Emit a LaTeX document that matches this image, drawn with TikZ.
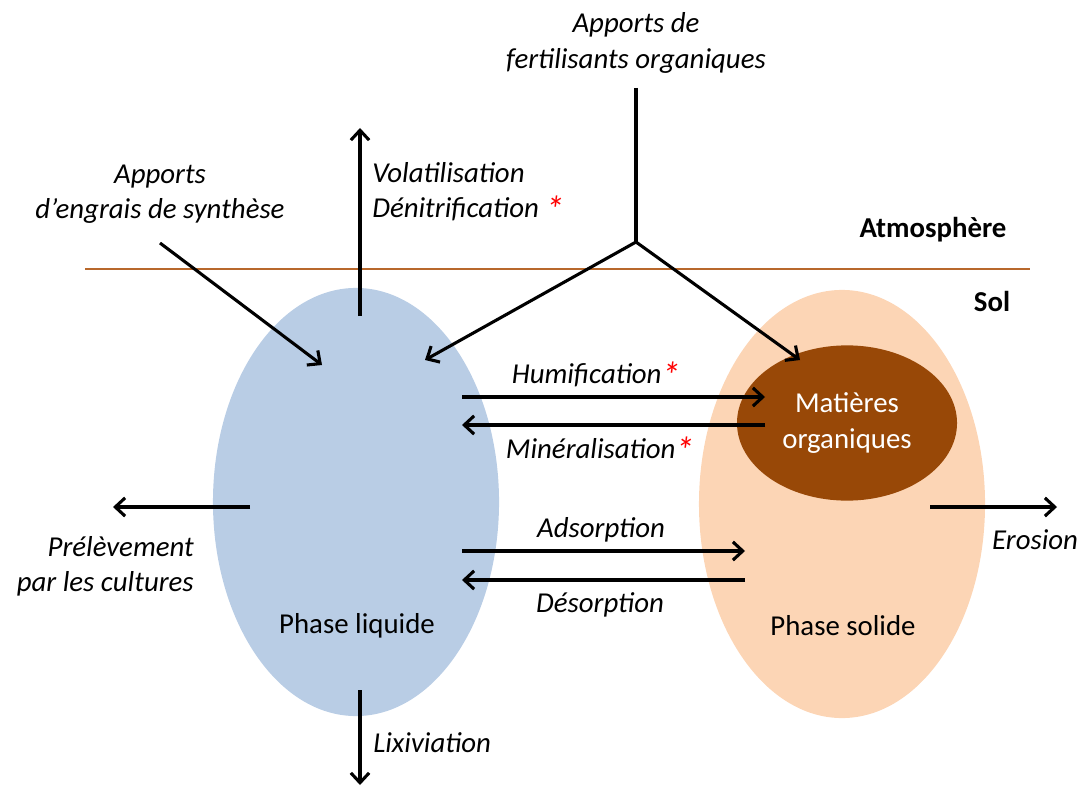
\documentclass[tikz,border=0pt]{standalone}
\usepackage{fontspec}
\setmainfont{Carlito}
\usetikzlibrary{arrows.meta,shapes.geometric}

\definecolor{liquidblue}{RGB}{185,205,229}
\definecolor{solidorange}{RGB}{252,213,181}
\definecolor{mobrown}{RGB}{152,72,7}
\definecolor{solline}{RGB}{184,104,44}

\newcommand{\etoile}{{\color{red}\smash{\raisebox{-0.35ex}{\scalebox{1.3}{*}}}}}

\begin{document}
\begin{tikzpicture}[x=0.025cm, y=-0.025cm,
    flux/.style={line width=2.2pt, -{Straight Barb[length=7pt,width=13pt]}},
    lbl/.style={font=\fontsize{20.5}{25}\selectfont\itshape, inner sep=0pt},
    phase/.style={ellipse, inner sep=0pt, minimum width=7.15cm, minimum height=10.7cm}]
    \useasboundingbox (0,0) rectangle (1083,787);

    \draw[solline, line width=1.2pt] (85,269) -- (1030,269);
    \node[font=\fontsize{20.5}{25}\selectfont\bfseries] (atmo) at (933,230) {Atmosph\`ere};
    \node[font=\fontsize{20.5}{25}\selectfont\bfseries] (sol) at (992,301) {Sol};

    \node[phase, fill=liquidblue] (liquide) at (356,502) {};
    \node[phase, fill=solidorange] (solide) at (842,504) {};
    \node[ellipse, fill=mobrown, inner sep=0pt, minimum width=5.5cm, minimum height=3.88cm,
          text=white, align=center, font=\fontsize{20.5}{25}\selectfont] (mo) at (847,423)
          {Mati\`eres\\organiques};
    \node[font=\fontsize{20.5}{25}\selectfont] (pliq) at (357,626) {Phase liquide};
    \node[font=\fontsize{20.5}{25}\selectfont] (psol) at (843,626) {Phase solide};

    \node[lbl, align=center] (engrais) at (160,194) {Apports\\d'engrais de synth\`ese};
    \node[lbl, align=center] (fertil) at (636,43) {Apports de\\fertilisants organiques};
    \node[lbl, align=left, anchor=west] (volat) at (372,192)
          {Volatilisation\\D\'enitrification \etoile};
    \node[lbl] (humif) at (596,375) {Humification\etoile};
    \node[lbl] (miner) at (600,449) {Min\'eralisation\etoile};
    \node[lbl] (adsorp) at (601,530) {Adsorption};
    \node[lbl] (desorp) at (600,605) {D\'esorption};
    \node[lbl, align=right, anchor=east] (prelev) at (194,566) {Pr\'el\`evement\\par les cultures};
    \node[lbl] (erosion) at (1035,540) {Erosion};
    \node[lbl, anchor=west] (lixiv) at (373,743) {Lixiviation};

    \coordinate (volA) at (360,316);
    \coordinate (volB) at (360,128);
    \coordinate (engA) at (160,243);
    \coordinate (engB) at (322,365);
    \coordinate (ferA) at (636,88);
    \coordinate (fourche) at (636,242);
    \coordinate (ferL) at (425,360);
    \coordinate (ferR) at (800,360);
    \coordinate (humA) at (462,397);
    \coordinate (humB) at (765,397);
    \coordinate (minA) at (765,425);
    \coordinate (minB) at (462,425);
    \coordinate (adsA) at (462,551);
    \coordinate (adsB) at (745,551);
    \coordinate (desA) at (745,580);
    \coordinate (desB) at (462,580);
    \coordinate (preA) at (250,507);
    \coordinate (preB) at (113,507);
    \coordinate (eroA) at (930,507);
    \coordinate (eroB) at (1057,507);
    \coordinate (lixA) at (360,690);
    \coordinate (lixB) at (360,785);

    \draw[flux] (volA) -- (volB);
    \draw[flux] (engA) -- (engB);
    \draw[line width=2.2pt] (ferA) -- (fourche);
    \draw[flux] (fourche) -- (ferL);
    \draw[flux] (fourche) -- (ferR);
    \draw[flux] (humA) -- (humB);
    \draw[flux] (minA) -- (minB);
    \draw[flux] (adsA) -- (adsB);
    \draw[flux] (desA) -- (desB);
    \draw[flux] (preA) -- (preB);
    \draw[flux] (eroA) -- (eroB);
    \draw[flux] (lixA) -- (lixB);
  \end{tikzpicture}
\end{document}
